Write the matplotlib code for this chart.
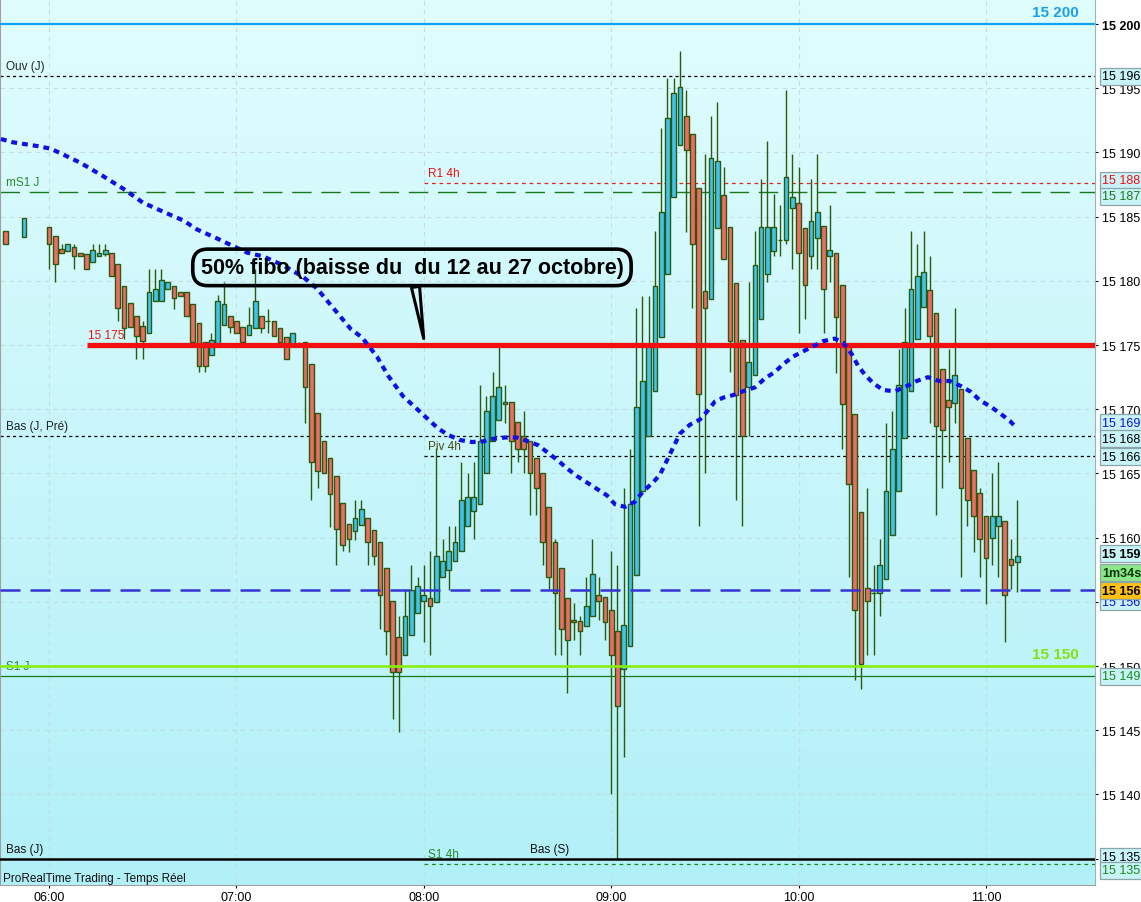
import numpy as np
import matplotlib
matplotlib.use("Agg")
import matplotlib.pyplot as plt
from matplotlib.transforms import blended_transform_factory

plt.rcParams["font.family"] = ["Liberation Sans", "DejaVu Sans"]

# 2-minute candles, index k -> minutes after 06:00 = 2*k
candle_idx = [-7, -4] + list(range(0, 156))
opens = [15183.9, 15183.4,
         15184.2, 15183.5, 15182.5, 15182.3, 15182.6, 15182.2, 15182.1, 15181.5, 15181.9, 15182.1,
         15182.2, 15181.3, 15179.6, 15178.3, 15177.3, 15176.5, 15175.9, 15178.4, 15178.4, 15179.4,
         15179.6, 15179.1, 15179.1, 15178.2, 15176.7, 15175.2, 15174.2, 15175.1, 15176.6, 15177.3,
         15176.9, 15176.4, 15175.8, 15176.3, 15177.3, 15176.9, 15176.9, 15176.3, 15175.6, 15175.1,
         15175.1, 15175.2, 15173.5, 15169.7, 15167.5, 15166.2, 15164.8, 15162.7, 15161.1, 15160.5,
         15161.0, 15161.5, 15160.6, 15159.7, 15157.6, 15155.1, 15152.3, 15150.9, 15152.4, 15154.1,
         15155.1, 15155.3, 15155.0, 15156.9, 15157.5, 15158.2, 15159.0, 15160.9, 15162.1, 15162.6,
         15165.0, 15167.5, 15169.2, 15170.4, 15170.6, 15169.0, 15167.9, 15167.5, 15166.2, 15165.0,
         15162.4, 15159.7, 15157.6, 15155.3, 15153.6, 15153.5, 15153.1, 15153.9, 15155.5, 15155.4,
         15154.4, 15152.7, 15149.8, 15151.6, 15157.1, 15163.6, 15167.9, 15171.4, 15175.6, 15180.5,
         15186.5, 15190.6, 15192.8, 15191.4, 15187.2, 15179.2, 15178.6, 15184.1, 15186.7, 15184.2,
         15179.8, 15175.4, 15171.7, 15172.7, 15177.0, 15180.5, 15182.3, 15183.2, 15183.2, 15185.7,
         15186.1, 15184.1, 15181.9, 15183.3, 15184.3, 15181.9, 15182.2, 15179.7, 15174.9, 15169.6,
         15162.0, 15156.1, 15155.7, 15155.7, 15156.8, 15160.2, 15163.6, 15167.8, 15171.4, 15175.5,
         15178.0, 15179.3, 15177.5, 15173.1, 15170.7, 15170.5, 15171.6, 15167.8, 15165.3, 15163.5,
         15161.7, 15160.0, 15160.9, 15161.3, 15158.3, 15158.1]
highs = [15183.9, 15184.9,
         15184.2, 15183.5, 15182.9, 15182.9, 15182.9, 15182.2, 15182.1, 15182.9, 15182.9, 15182.9,
         15182.2, 15181.3, 15179.6, 15178.3, 15177.3, 15176.9, 15180.9, 15180.9, 15180.9, 15179.9,
         15179.6, 15179.1, 15179.1, 15178.2, 15176.7, 15175.2, 15175.9, 15178.9, 15179.9, 15177.3,
         15176.9, 15176.4, 15178.0, 15180.9, 15177.3, 15177.8, 15176.9, 15176.3, 15175.6, 15175.9,
         15175.2, 15175.2, 15173.5, 15169.7, 15167.5, 15166.2, 15164.8, 15162.7, 15161.1, 15162.9,
         15162.9, 15161.5, 15160.6, 15159.7, 15157.6, 15155.1, 15153.9, 15155.9, 15157.9, 15156.9,
         15157.9, 15159.0, 15167.0, 15159.9, 15160.9, 15160.9, 15165.9, 15165.0, 15165.9, 15171.9,
         15171.0, 15172.9, 15174.9, 15171.9, 15170.6, 15169.0, 15169.9, 15167.5, 15166.2, 15165.0,
         15162.4, 15159.9, 15157.6, 15155.3, 15154.9, 15153.9, 15156.9, 15159.9, 15156.9, 15155.4,
         15159.0, 15157.9, 15163.9, 15166.9, 15177.9, 15178.8, 15178.8, 15183.9, 15191.9, 15195.8,
         15195.8, 15197.9, 15194.9, 15191.4, 15187.2, 15189.9, 15192.8, 15193.9, 15188.9, 15184.2,
         15179.8, 15175.4, 15179.9, 15183.9, 15187.9, 15190.9, 15186.8, 15185.9, 15194.9, 15189.9,
         15188.9, 15184.1, 15187.9, 15189.9, 15184.3, 15185.9, 15182.2, 15179.7, 15174.9, 15169.6,
         15162.0, 15163.9, 15157.9, 15159.9, 15168.9, 15169.9, 15174.7, 15177.9, 15183.9, 15182.9,
         15183.9, 15181.9, 15177.5, 15173.1, 15174.7, 15177.9, 15171.6, 15167.8, 15165.3, 15163.9,
         15161.7, 15165.0, 15165.9, 15161.3, 15159.9, 15162.9]
lows = [15182.9, 15183.4,
        15180.9, 15179.9, 15182.2, 15182.3, 15180.9, 15181.9, 15180.9, 15181.5, 15181.9, 15181.9,
        15180.4, 15176.9, 15175.5, 15176.4, 15173.9, 15173.9, 15175.9, 15178.4, 15178.4, 15179.4,
        15177.8, 15178.8, 15177.3, 15175.2, 15172.9, 15172.9, 15174.2, 15175.1, 15176.6, 15175.9,
        15175.9, 15175.2, 15175.8, 15176.3, 15175.9, 15175.9, 15175.7, 15175.2, 15173.9, 15175.1,
        15174.9, 15168.9, 15162.9, 15163.9, 15165.0, 15160.8, 15157.9, 15159.0, 15158.9, 15159.8,
        15161.0, 15157.9, 15157.9, 15152.9, 15150.9, 15145.9, 15144.9, 15150.9, 15152.4, 15154.1,
        15151.9, 15150.9, 15155.0, 15156.9, 15155.9, 15158.2, 15159.0, 15160.9, 15159.9, 15162.6,
        15165.0, 15167.5, 15169.2, 15168.9, 15165.0, 15165.9, 15165.0, 15161.8, 15161.8, 15157.9,
        15156.0, 15150.9, 15150.9, 15147.9, 15152.0, 15150.9, 15153.1, 15153.9, 15153.6, 15152.0,
        15140.0, 15135.0, 15142.9, 15151.6, 15157.1, 15163.6, 15167.9, 15171.4, 15175.6, 15180.5,
        15186.5, 15190.6, 15183.8, 15177.9, 15160.9, 15165.0, 15178.6, 15184.1, 15181.7, 15172.9,
        15162.9, 15160.9, 15167.9, 15172.7, 15177.0, 15179.9, 15181.9, 15181.9, 15182.9, 15180.9,
        15175.9, 15177.0, 15180.9, 15180.9, 15175.9, 15179.9, 15172.8, 15166.9, 15156.9, 15148.9,
        15148.2, 15150.9, 15150.9, 15153.9, 15156.8, 15160.2, 15163.6, 15167.8, 15171.4, 15175.5,
        15178.0, 15168.9, 15161.8, 15163.9, 15165.9, 15168.9, 15156.9, 15160.9, 15158.9, 15156.9,
        15154.8, 15157.9, 15156.9, 15151.9, 15156.0, 15155.8]
closes = [15182.9, 15184.9,
          15182.9, 15181.3, 15182.2, 15182.9, 15181.9, 15181.9, 15180.9, 15182.4, 15182.2, 15182.4,
          15180.4, 15177.9, 15176.3, 15176.4, 15175.7, 15175.3, 15179.1, 15179.4, 15180.1, 15179.9,
          15178.7, 15178.8, 15177.3, 15175.2, 15173.4, 15173.4, 15175.4, 15178.4, 15178.2, 15176.4,
          15175.9, 15175.2, 15176.6, 15178.4, 15176.3, 15176.9, 15175.7, 15175.2, 15173.9, 15175.9,
          15175.0, 15171.7, 15165.9, 15165.2, 15165.0, 15163.4, 15160.7, 15159.4, 15159.9, 15161.5,
          15162.2, 15159.7, 15158.6, 15155.5, 15152.7, 15149.5, 15149.5, 15153.9, 15155.9, 15156.2,
          15155.5, 15154.7, 15158.6, 15158.2, 15159.0, 15159.7, 15162.9, 15163.2, 15163.2, 15167.5,
          15169.9, 15171.0, 15171.7, 15170.6, 15167.5, 15166.9, 15166.9, 15165.0, 15163.9, 15159.7,
          15156.9, 15155.7, 15152.9, 15152.0, 15153.4, 15152.7, 15154.7, 15157.2, 15155.1, 15153.4,
          15150.9, 15146.9, 15153.2, 15162.6, 15170.2, 15172.2, 15174.9, 15179.6, 15185.4, 15192.7,
          15194.6, 15195.1, 15190.2, 15182.9, 15171.2, 15177.9, 15189.6, 15189.3, 15181.7, 15175.3,
          15171.1, 15167.9, 15173.7, 15181.2, 15184.2, 15184.2, 15184.2, 15183.2, 15188.1, 15186.5,
          15182.2, 15179.7, 15184.7, 15185.4, 15179.4, 15182.4, 15177.2, 15170.4, 15164.2, 15154.4,
          15150.2, 15155.1, 15155.7, 15157.9, 15163.6, 15166.9, 15171.9, 15175.2, 15179.4, 15180.4,
          15180.7, 15175.7, 15168.7, 15168.4, 15170.2, 15172.7, 15163.9, 15162.9, 15161.7, 15159.9,
          15158.4, 15161.7, 15161.7, 15155.5, 15157.9, 15158.6]

# moving average (dotted blue), minutes after 06:00 / price
ma_t = [-15.4, -11.8, -3.8, 0.4, 3.6, 10.0, 17.0, 23.6, 30.0, 36.4, 43.0, 47.4, 53.8, 63.4,
        68.6, 75.0, 81.4, 85.8, 96.6, 100.2, 105.0, 108.6, 113.4, 118.8, 124.6, 127.8, 131.6,
        135.4, 139.0, 142.2, 146.0, 149.8, 153.4, 156.6, 159.8, 163.0, 165.8, 169.0, 172.2,
        175.4, 178.6, 181.2, 184.4, 187.6, 190.2, 193.4, 195.6, 198.8, 202.0, 205.2, 208.4,
        210.6, 213.2, 215.8, 219.0, 222.2, 226.0, 229.2, 232.4, 235.0, 238.2, 241.4, 244.6,
        247.8, 251.6, 254.2, 257.0, 259.0, 261.2, 263.8, 267.0, 270.8, 274.6, 277.8, 281.4,
        285.0, 288.4, 292.0, 295.2, 298.0, 301.2, 304.4, 307.6, 309.6]
ma_price = [15191.05, 15190.8, 15190.5, 15190.3, 15189.95, 15189.2, 15188.2, 15187.2, 15186.1,
            15185.4, 15184.7, 15184.0, 15183.3, 15182.2, 15181.9, 15181.2, 15180.3, 15179.4,
            15176.25, 15175.6, 15174.1, 15172.6, 15171.0, 15169.8, 15168.5, 15168.0, 15167.6,
            15167.45, 15167.5, 15167.7, 15167.8, 15167.8, 15167.5, 15167.2, 15166.6, 15166.0,
            15165.4, 15164.8, 15164.3, 15163.8, 15163.3, 15162.6, 15162.4, 15162.8, 15163.6,
            15164.3, 15164.9, 15166.5, 15168.1, 15168.8, 15169.2, 15169.8, 15170.6, 15170.9,
            15171.1, 15171.4, 15171.7, 15172.4, 15172.9, 15173.5, 15174.1, 15174.5, 15174.9,
            15175.3, 15175.5, 15175.2, 15174.3, 15173.4, 15172.7, 15172.05, 15171.5, 15171.4,
            15171.8, 15172.2, 15172.5, 15172.2, 15172.2, 15171.8, 15171.35, 15170.7, 15170.25,
            15169.7, 15169.1, 15168.6]

# levels
lvl_top = 15200
lvl_ouv = 15195.95
lvl_r1_4h = 15187.6
lvl_ms1 = 15186.9
lvl_fibo = 15175
lvl_bas_pre = 15167.9
lvl_piv_4h = 15166.35
lvl_blue = 15155.9
lvl_150 = 15150
lvl_s1j = 15149.2
lvl_bas = 15135
lvl_s1_4h = 15134.6

hour_ticks = [0, 60, 120, 180, 240, 300]
hour_labels = ["06:00", "07:00", "08:00", "09:00", "10:00", "11:00"]
price_ticks = list(range(15135, 15201, 5))

# right-hand value boxes: (text, price, text colour, box colour, bold)
side_labels = [
    ("15 196", 15195.95, "black", "#c8f3f7", False),
    ("15 188", 15187.85, "#f01010", "#c8f3f7", False),
    ("15 187", 15186.6, "#1a7a1a", "#c8f3f7", False),
    ("15 169", 15168.95, "#1010e0", "#c8f3f7", False),
    ("15 168", 15167.7, "black", "#c8f3f7", False),
    ("15 166", 15166.3, "black", "#c8f3f7", False),
    ("15 156", 15155.0, "#1010e0", "#c8f3f7", False),
    ("15 159", 15158.75, "black", "#c8f3f7", True),
    ("1m34s", 15157.25, "#0a3a0a", "#8ee68a", True),
    ("15 156", 15155.85, "black", "#ffc010", True),
    ("15 149", 15149.2, "#1a8a1a", "#c8f3f7", False),
    ("15 135", 15135.15, "black", "#c8f3f7", False),
    ("15 135", 15134.1, "#1a8a1a", "#c8f3f7", False),
]

fig = plt.figure(figsize=(11.41, 9.03), dpi=100)
ax = fig.add_axes([0, 17 / 903, 1095 / 1141, 886 / 903])
xmin, xmax = -15.7, 334.9
ymin, ymax = 15132.95, 15201.95
ax.set_xlim(xmin, xmax)
ax.set_ylim(ymin, ymax)

# background gradient
grad = np.linspace(0, 1, 256).reshape(-1, 1)
top_c = np.array([0xe0, 0xfd, 0xfe]) / 255
bot_c = np.array([0xb2, 0xf0, 0xf8]) / 255
img = top_c[None, None, :] * (1 - grad[:, :, None]) + bot_c[None, None, :] * grad[:, :, None]
ax.imshow(img, extent=[xmin, xmax, ymin, ymax], aspect="auto", origin="upper", zorder=0)

for p in price_ticks:
    ax.axhline(p, color="#c4dde2", lw=0.8, ls=(0, (4, 4)), zorder=1)
for t in hour_ticks:
    ax.axvline(t, color="#c4dde2", lw=0.8, ls=(0, (4, 4)), zorder=1)

# thin level lines (below candles)
ax.axhline(lvl_ouv, color="black", lw=0.9, ls=(0, (2.5, 2.5)), zorder=2)
ax.axhline(lvl_ms1, color="#1a7a1a", lw=1.0, ls=(0, (14, 7)), zorder=2)
ax.hlines(lvl_r1_4h, 120, xmax, color="#e82020", lw=0.9, ls=(0, (3, 3)), zorder=2)
ax.axhline(lvl_bas_pre, color="black", lw=0.9, ls=(0, (2.5, 2.5)), zorder=2)
ax.hlines(lvl_piv_4h, 120, xmax, color="black", lw=0.9, ls=(0, (2.5, 2.5)), zorder=2)
ax.axhline(lvl_s1j, color="#1a7a1a", lw=0.9, zorder=2)
ax.hlines(lvl_s1_4h, 120, xmax, color="#1a8a1a", lw=0.9, ls=(0, (3, 3)), zorder=2)

# candles
t_c = [2 * k for k in candle_idx]
o = np.array(opens)
c = np.array(closes)
body_col = np.where(c >= o, "#3ec4ee", "#f06a66")
ax.vlines(t_c, lows, highs, color="#2b5a0c", lw=1.0, zorder=3)
ax.bar(t_c, np.abs(c - o), bottom=np.minimum(o, c), width=1.5, color=body_col,
       edgecolor="#2b5a0c", linewidth=1.0, zorder=4)

# thick level lines (over candles)
ax.axhline(lvl_top, color="#10a4f4", lw=1.6, zorder=5)
ax.hlines(lvl_fibo, 12.0, xmax, color="#f01010", lw=3.8, zorder=5)
ax.axhline(lvl_blue, color="#3434d4", lw=1.8, ls=(0, (8, 4)), zorder=5)
ax.axhline(lvl_150, color="#88ee10", lw=1.9, zorder=5)
ax.axhline(lvl_bas, color="black", lw=1.8, zorder=5)

ax.plot(ma_t, ma_price, color="#1010e6", lw=3.0, ls=(0, (1.4, 1.2)), zorder=6)

# labels on the chart
trans_l = blended_transform_factory(ax.transAxes, ax.transData)
fs = 8.5
ax.text(0.0055, lvl_ouv + 0.3, "Ouv (J)", transform=trans_l, fontsize=fs, color="#222222", va="bottom")
ax.text(0.0055, lvl_ms1 + 0.3, "mS1 J", transform=trans_l, fontsize=fs, color="#2a8a2a", va="bottom")
ax.text(0.0055, lvl_bas_pre + 0.3, "Bas (J, Pré)", transform=trans_l, fontsize=fs, color="#222222", va="bottom")
ax.text(0.0055, lvl_s1j + 0.3, "S1 J", transform=trans_l, fontsize=fs, color="#2a8a2a", va="bottom")
ax.text(0.0055, lvl_bas + 0.3, "Bas (J)", transform=trans_l, fontsize=fs, color="#111111", va="bottom")
ax.text(121.3, lvl_r1_4h + 0.3, "R1 4h", fontsize=fs, color="#f01010", va="bottom")
ax.text(121.3, lvl_piv_4h + 0.3, "Piv 4h", fontsize=fs, color="#4a4a10", va="bottom")
ax.text(121.3, lvl_s1_4h + 0.3, "S1 4h", fontsize=fs, color="#2a8a2a", va="bottom")
ax.text(154.0, lvl_bas + 0.3, "Bas (S)", fontsize=fs, color="#111111", va="bottom")
ax.text(12.5, lvl_fibo + 0.35, "15 175", fontsize=fs, color="#f01010", va="bottom")
ax.text(322.1, lvl_top + 0.9, "15 200", fontsize=11, color="#18a0ee", fontweight="bold",
        ha="center", va="center")
ax.text(322.1, lvl_150 + 0.95, "15 150", fontsize=11, color="#88e010", fontweight="bold",
        ha="center", va="center")
ax.text(0.003, 0.008, "ProRealTime Trading - Temps Réel", transform=ax.transAxes,
        fontsize=8.5, color="#111111", va="center")

ax.annotate("50% fibo (baisse du  du 12 au 27 octobre)", xy=(120.1, 15175.3),
            xytext=(116.2, 15181.05), ha="center", va="center", fontsize=15.5,
            fontweight="bold", color="black", zorder=8,
            bbox=dict(boxstyle="round,pad=0.36,rounding_size=0.7", fc="none", ec="black", lw=2.6),
            arrowprops=dict(arrowstyle="wedge,tail_width=0.38,shrink_factor=0.5", fc="#d2f7fa",
                            ec="black", lw=2.2, relpos=(0.505, 0.0), shrinkA=0))

# axes / ticks
ax.yaxis.tick_right()
ax.set_yticks(price_ticks)
ax.set_yticklabels([f"{p // 1000} {p % 1000:03d}" for p in price_ticks])
ax.tick_params(axis="y", length=2.5, pad=2.5, labelsize=9, colors="black")
ax.get_yticklabels()[-1].set_fontweight("bold")
ax.set_xticks(hour_ticks)
ax.set_xticklabels(hour_labels)
ax.tick_params(axis="x", length=2.5, pad=1.5, labelsize=9)
ax.spines["top"].set_visible(False)
ax.spines["left"].set_color("#a0a0a0")
ax.spines["right"].set_color("#9ab4b8")
ax.spines["bottom"].set_color("#a0a0a0")

trans_r = blended_transform_factory(ax.transAxes, ax.transData)
for txt, p, col, bg, bold in side_labels:
    ax.text(1.0068, p, txt, transform=trans_r, fontsize=9, color=col, va="center", ha="left",
            fontweight="bold" if bold else "normal", clip_on=False, zorder=10,
            bbox=dict(boxstyle="square,pad=0.2", fc=bg, ec="#8aa6aa", lw=0.9))

fig.savefig("out.png", dpi=100)
